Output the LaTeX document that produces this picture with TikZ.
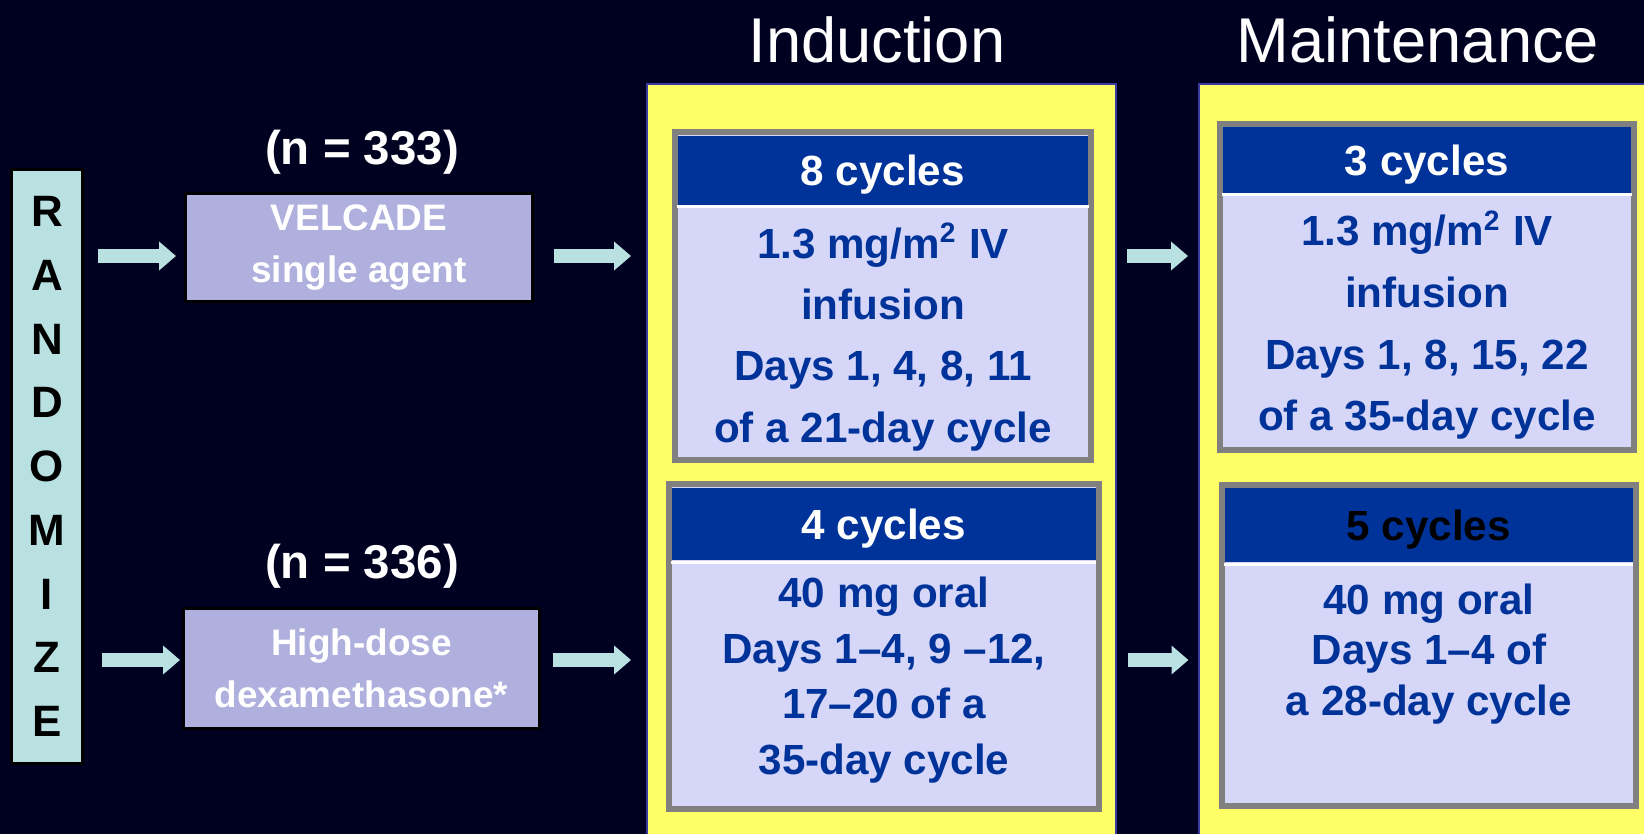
\documentclass[tikz,border=0pt]{standalone}
\usepackage{fontspec}
\setmainfont{Liberation Sans}
\usepackage{tikz}
\usetikzlibrary{calc,positioning,arrows.meta}

\definecolor{slidebg}{RGB}{0,0,32}
\definecolor{randcyan}{RGB}{185,225,226}
\definecolor{armlav}{RGB}{176,176,222}
\definecolor{panelyellow}{RGB}{255,255,102}
\definecolor{panelline}{RGB}{60,60,160}
\definecolor{headblue}{RGB}{0,51,153}
\definecolor{bodylav}{RGB}{214,214,248}
\definecolor{framegray}{RGB}{128,128,128}

\begin{document}
\begin{tikzpicture}[
		flow/.style={line width=1.4mm, randcyan, -{Triangle[length=1.7mm, width=2.8mm]}},
		armbox/.style={draw=black, line width=0.85pt, fill=armlav, text=white, align=center, inner sep=0pt, font=\bfseries\fontsize{10.5}{14.9}\selectfont},
		count/.style={text=white, font=\bfseries\fontsize{13.5}{16}\selectfont},
		panel/.style={draw=panelline, line width=0.6pt, fill=panelyellow, inner sep=0pt},
		phase/.style={text=white, anchor=base, font=\fontsize{18}{20}\selectfont},
		cyclebox/.style={draw=framegray, line width=0.06cm, fill=bodylav, inner sep=0pt},
		cyclehead/.style={fill=headblue, text=white, anchor=north, inner sep=0pt, text depth=0pt, font=\bfseries\fontsize{12}{14}\selectfont},
		dose/.style={text=headblue, align=center, font=\bfseries\fontsize{12}{#1}\selectfont},
		sepline/.style={white, line width=0.8pt}
	]
		\useasboundingbox (0,0) rectangle (16.44,-8.34);
		\clip (0,0) rectangle (16.44,-8.34);
		\fill[slidebg] (0,0) rectangle (16.44,-8.34);

		\coordinate (toprow) at (0,-2.56);
		\coordinate (botrow) at (0,-6.60);

		\node[draw=black, line width=0.85pt, fill=randcyan, minimum width=0.71cm, minimum height=5.94cm, inner sep=0pt, align=center, font=\bfseries\fontsize{12.5}{18.14}\selectfont] (rand) at (0.47,-4.665) {R\\A\\N\\D\\O\\M\\I\\Z\\E};

		\node[count] (n333) at (3.62,-1.52) {(n = 333)};
		\node[armbox, minimum width=3.47cm, minimum height=1.08cm] (velcade) at (3.59,-2.475) {VELCADE\\single agent};
		\node[count] (n336) at (3.62,-5.66) {(n = 336)};
		\node[armbox, minimum width=3.56cm, minimum height=1.20cm] (highdose) at (3.615,-6.685) {High-dose\\dexamethasone*};

		\node[panel, minimum width=4.69cm, minimum height=8cm, anchor=north] (induction) at (8.811,-0.825) {};
		\node[panel, minimum width=5cm, minimum height=8cm, anchor=north west] (maintenance) at (11.975,-0.825) {};
		\node[phase] (indtitle) at (8.77,-0.62) {Induction};
		\node[phase] (maintitle) at (14.18,-0.62) {Maintenance};

		\node[cyclebox, minimum width=4.163cm, minimum height=3.28cm] (indA) at (8.8285,-2.963) {};
		\node[cyclehead, minimum width=4.103cm, minimum height=0.687cm] (indA-h) at ([yshift=-0.06cm]indA.north) {8 cycles};
		\node[dose=17.45pt] (indAtext) at (8.83,-3.37) {1.3 mg/m\textsuperscript{2} IV\\infusion\\Days 1, 4, 8, 11\\of a 21-day cycle};

		\node[cyclebox, minimum width=4.297cm, minimum height=3.247cm] (indB) at (8.8385,-6.4635) {};
		\node[cyclehead, minimum width=4.237cm, minimum height=0.723cm] (indB-h) at ([yshift=-0.06cm]indB.north) {4 cycles};
		\node[dose=15.8pt] (indBtext) at (8.84,-6.80) {40 mg oral\\Days 1–4, 9 –12,\\17–20 of a\\35-day cycle};

		\node[cyclebox, minimum width=4.146cm, minimum height=3.26cm] (mainA) at (14.27,-2.867) {};
		\node[cyclehead, minimum width=4.086cm, minimum height=0.653cm] (mainA-h) at ([yshift=-0.06cm]mainA.north) {3 cycles};
		\node[dose=17.6pt] (mainAtext) at (14.27,-3.25) {1.3 mg/m\textsuperscript{2} IV\\infusion\\Days 1, 8, 15, 22\\of a 35-day cycle};

		\node[cyclebox, minimum width=4.135cm, minimum height=3.216cm] (mainB) at (14.2875,-6.455) {};
		\node[cyclehead, text=black, minimum width=4.075cm, minimum height=0.74cm] (mainB-h) at ([yshift=-0.06cm]mainB.north) {5 cycles};
		\node[dose=14.45pt] (mainBtext) at (14.29,-6.54) {40 mg oral\\Days 1–4 of\\a 28-day cycle};

		\foreach \b in {indA,indB,mainA,mainB}
			\draw[sepline] ([yshift=-0.4pt]\b-h.south west) -- ([yshift=-0.4pt]\b-h.south east);

		\draw[flow, shorten <=1.4mm, shorten >=0.8mm] (rand.east |- toprow) -- (velcade.west |- toprow);
		\draw[flow, shorten <=1.8mm, shorten >=0.2mm] (rand.east |- botrow) -- (highdose.west |- botrow);
		\draw[flow, shorten <=1.96mm, shorten >=1.45mm] (velcade.east |- toprow) -- (induction.west |- toprow);
		\draw[flow, shorten <=1.2mm, shorten >=1.45mm] (highdose.east |- botrow) -- (induction.west |- botrow);
		\draw[flow, shorten <=1.03mm, shorten >=0.95mm] (induction.east |- toprow) -- (maintenance.west |- toprow);
		\draw[flow, shorten <=1.13mm, shorten >=0.9mm] (induction.east |- botrow) -- (maintenance.west |- botrow);
	\end{tikzpicture}
\end{document}
